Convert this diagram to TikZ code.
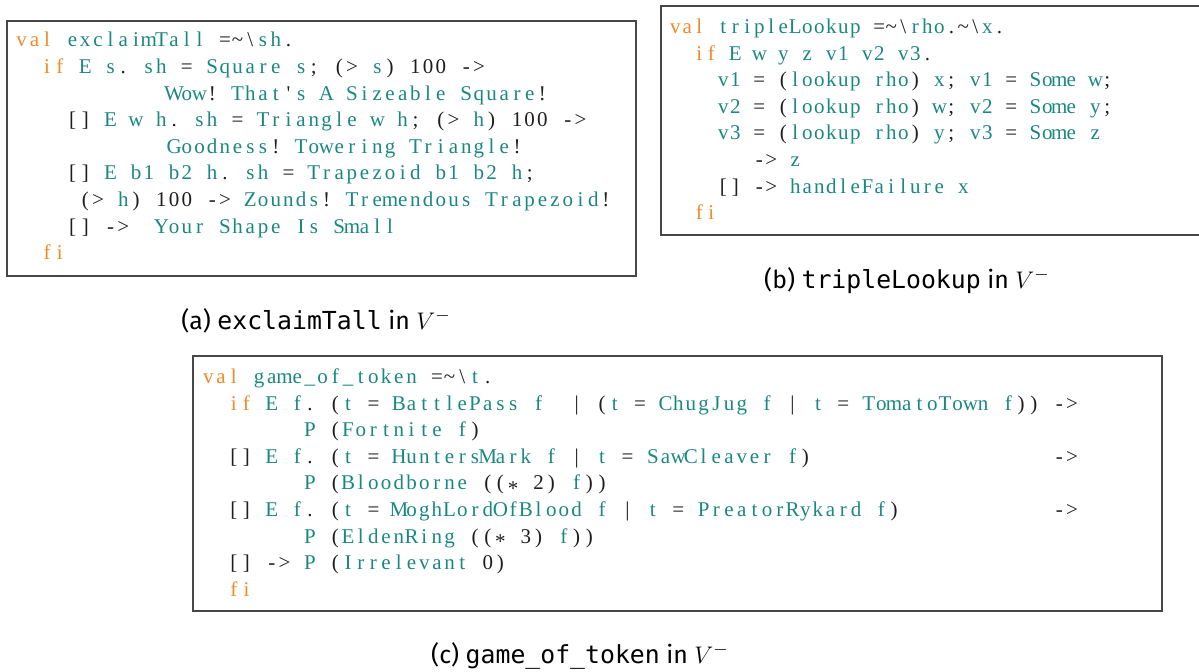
\documentclass[tikz,border=0pt]{standalone}
\usepackage{fontspec}
\usepackage{xcolor}
\usepackage{tikz}
\usetikzlibrary{fit}
\newfontfamily\codeserif{Liberation Serif}
\newfontfamily\capsans{Fira Sans}
\newfontfamily\capmono{DejaVu Sans Mono}
\definecolor{codekw}{HTML}{F08A24}
\definecolor{codeid}{HTML}{1A8782}
\definecolor{codeplain}{HTML}{1E1E1E}

% every character of a listing sits in a cell of width \codepitch
\newlength\codepitch
\newcommand\codestrut{\vrule height 9pt depth 4.3pt width 0pt}
\newcommand\codeblock[2]{\setlength\codepitch{#1}\vbox{\offinterlineskip#2}}

\ExplSyntaxOn
\str_new:N \l__cw_word_str
\bool_new:N \l__cw_num_bool
\tl_new:N \l__cw_col_tl
\cs_new_protected:Npn \__cw_cell:nn #1#2
  { \makebox [ \codepitch ] [ c ] { \color{#1} #2 } }
% words: keywords orange, numbers plain, names teal
\cs_new_protected:Npn \__cw_flush:
  {
    \str_if_empty:NF \l__cw_word_str
      {
        \exp_args:NV \str_case:nnF \l__cw_word_str
          {
            { val } { \tl_set:Nn \l__cw_col_tl { codekw } }
            { if }  { \tl_set:Nn \l__cw_col_tl { codekw } }
            { fi }  { \tl_set:Nn \l__cw_col_tl { codekw } }
          }
          {
            \bool_if:NTF \l__cw_num_bool
              { \tl_set:Nn \l__cw_col_tl { codeplain } }
              { \tl_set:Nn \l__cw_col_tl { codeid } }
          }
        \str_map_inline:Nn \l__cw_word_str
          { \__cw_cell:nn { \l__cw_col_tl } {##1} }
        \str_clear:N \l__cw_word_str
      }
  }
\cs_new_protected:Npn \__cw_char:n #1
  {
    \str_if_in:nnTF
      { abcdefghijklmnopqrstuvwxyzABCDEFGHIJKLMNOPQRSTUVWXYZ0123456789_ } {#1}
      {
        \str_if_empty:NT \l__cw_word_str
          {
            \str_if_in:nnTF { 0123456789 } {#1}
              { \bool_set_true:N \l__cw_num_bool }
              { \bool_set_false:N \l__cw_num_bool }
          }
        \str_put_right:Nn \l__cw_word_str {#1}
      }
      {
        \__cw_flush:
        \str_case:nnF {#1}
          {
            { ` } { \__cw_cell:nn { codeplain } { \textbackslash } }
            { * } { \__cw_cell:nn { codeplain } { \raisebox{-0.25em}{*} } }
          }
          { \__cw_cell:nn { codeplain } {#1} }
      }
  }
\NewDocumentCommand \cl { m }
  {
    \hbox:n
      {
        \codestrut
        \str_clear:N \l__cw_word_str
        \str_map_inline:nn {#1} { \__cw_char:n {##1} }
        \__cw_flush:
      }
  }
\ExplSyntaxOff

% listings (a ` stands for a backslash)
\begingroup
\obeyspaces
\gdef\exclaimcode{%
\cl{val exclaimTall =~`sh.}%
\cl{  if E s. sh = Square s; (> s) 100 ->}%
\cl{            Wow! That's A Sizeable Square!}%
\cl{    [] E w h. sh = Triangle w h; (> h) 100 ->}%
\cl{            Goodness! Towering Triangle!}%
\cl{    [] E b1 b2 h. sh = Trapezoid b1 b2 h;}%
\cl{     (> h) 100 -> Zounds! Tremendous Trapezoid!}%
\cl{    [] ->  Your Shape Is Small}%
\cl{  fi}%
}%
\gdef\lookupcode{%
\cl{val tripleLookup =~`rho.~`x.}%
\cl{  if E w y z v1 v2 v3.}%
\cl{    v1 = (lookup rho) x; v1 = Some w;}%
\cl{    v2 = (lookup rho) w; v2 = Some y;}%
\cl{    v3 = (lookup rho) y; v3 = Some z}%
\cl{       -> z}%
\cl{    [] -> handleFailure x}%
\cl{  fi}%
}%
\gdef\tokencode{%
\cl{val game_of_token =~`t.}%
\cl{  if E f. (t = BattlePass f  | (t = ChugJug f | t = TomatoTown f)) ->}%
\cl{        P (Fortnite f)}%
\cl{  [] E f. (t = HuntersMark f | t = SawCleaver f)                   ->}%
\cl{        P (Bloodborne ((* 2) f))}%
\cl{  [] E f. (t = MoghLordOfBlood f | t = PreatorRykard f)            ->}%
\cl{        P (EldenRing ((* 3) f))}%
\cl{  [] -> P (Irrelevant 0)}%
\cl{  fi}%
}%
\endgroup

\begin{document}
\begin{tikzpicture}[
  x=0.5pt, y=-0.5pt,
  frame/.style={draw=black!72, line width=0.6pt, inner sep=0pt},
  code/.style={inner sep=0pt, anchor=north west, font={\codeserif\fontsize{10.5}{13.3}\selectfont}},
  captext/.style={anchor=base, inner sep=0pt, font={\capsans\fontsize{12.4}{14}\selectfont}}
]
\path[use as bounding box, clip] (0,0) rectangle (1199,671);

% (a)
\node[frame, fit={(7,21) (636,276)}] (frameA) {};
\node[code] (exclaim) at (15,28.5) {\codeblock{6.35pt}{\exclaimcode}};
\node[captext] (capA) at (316,329) {(a) {\capmono exclaimTall} in $V^-$};

% (b), running off the right edge
\node[frame, fit={(661,6) (1240,235)}] (frameB) {};
\node[code] (lookup) at (669,15) {\codeblock{6pt}{\lookupcode}};
\node[captext] (capB) at (907,288) {(b) {\capmono tripleLookup} in $V^-$};

% (c)
\node[frame, fit={(193,356) (1162,611)}] (frameC) {};
\node[code] (token) at (201.6,365) {\codeblock{6.35pt}{\tokencode}};
\node[captext] (capC) at (580,663) {(c) {\capmono game\_of\_token} in $V^-$};
\end{tikzpicture}
\end{document}
